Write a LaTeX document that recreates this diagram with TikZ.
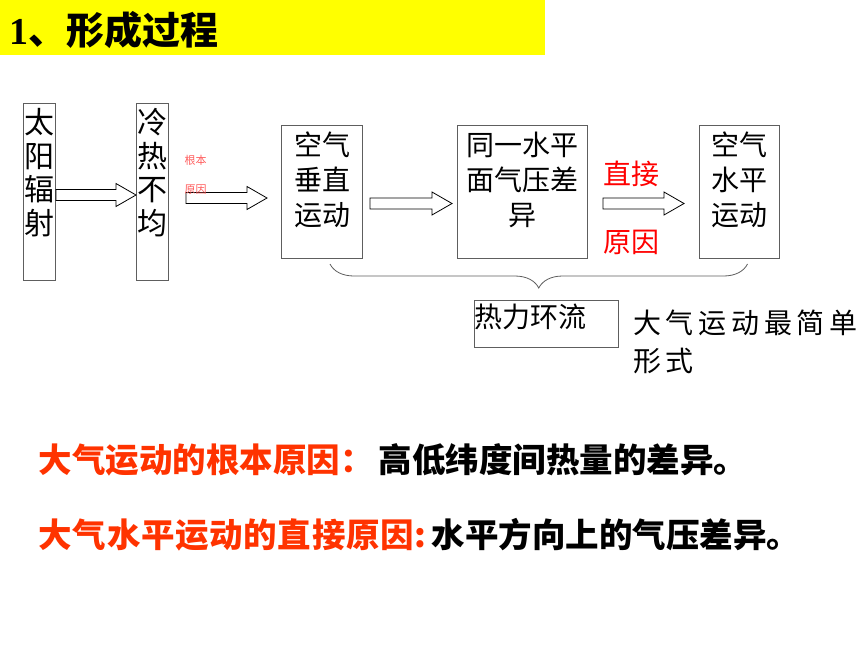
\documentclass[tikz,border=0pt]{standalone}
\usepackage{fontspec}
\setmainfont{Noto Sans CJK SC}
\newfontfamily\latinserif{Liberation Serif}
\usetikzlibrary{calc,decorations.pathreplacing}
\definecolor{boxgray}{HTML}{5E5E5E}
\definecolor{titleyellow}{HTML}{FFFF00}
\definecolor{causered}{HTML}{FF3300}
\definecolor{softred}{HTML}{FF5C5C}
\tikzset{
  every node/.style={
    inner sep=0pt
  },
  column/.style={
    draw=boxgray,
    line width=1pt,
    anchor=north west,
    text width=32pt,
    align=center,
    font=\fontsize{30}{33.5}\selectfont,
    text height=30pt,
    text depth=147pt
  },
  stage/.style={
    draw=boxgray,
    line width=1pt,
    anchor=north west,
    text width=#1,
    align=center,
    font=\fontsize{28}{35}\selectfont,
    text height=30pt,
    text depth=103pt
  },
  summary/.style={
    draw=boxgray,
    line width=1pt,
    anchor=north west,
    text width=144pt,
    align=left,
    font=\fontsize{28}{35}\selectfont,
    text height=26.5pt,
    text depth=20.5pt
  },
  blockarrow/.style={
    draw=black,
    line width=0.8pt,
    fill=white,
    line join=miter
  },
  cause/.style={
    anchor=base west,
    text=red,
    font=\fontsize{28}{35}\selectfont
  },
  keyline/.style={
    anchor=base west,
    font=\fontsize{33.5}{40}\selectfont\bfseries
  }
}
\newcommand{\hollowarrow}[2]{%
  \draw[blockarrow] let \p1=(#1), \p2=(#2) in
    (\x1,\y1+5.5) -- (\x2-20,\y1+5.5) -- (\x2-20,\y1+11.5) -- (\x2,\y1)
    -- (\x2-20,\y1-11.5) -- (\x2-20,\y1-5.5) -- (\x1,\y1-5.5) -- cycle;}

\begin{document}
\begin{tikzpicture}[x=1pt,y=-1pt]
  \fill[white] (0,0) rectangle (860,645);
  \useasboundingbox (0,0) rectangle (860,645);

  \fill[titleyellow] (0,0) rectangle (545,55);
  \node[anchor=base west, font=\fontsize{38}{40}\selectfont\bfseries] (title) at (9,45)
    {{\latinserif 1}、形成过程};

  \node[column] (sun) at (23,103) {太\\阳\\辐\\射};
  \node[column] (uneven) at (136,103) {冷\\热\\不\\均};
  \node[stage=81pt] (vertical) at (281,125) {空气\\垂直\\运动};
  \node[stage=130pt] (pressure) at (457,125) {同一水平\\面气压差\\异};
  \node[stage=80pt] (horizontal) at (699,125) {空气\\水平\\运动};
  \node[summary] (circulation) at (474,300) {热力环流};

  \hollowarrow{$(sun.east)+(0,3)$}{$(uneven.west)+(0,3)$}
  \hollowarrow{$(uneven.east)+(17,6)$}{$(vertical.west)+(-14,6)$}
  \hollowarrow{$(vertical.east)+(7,11.5)$}{$(pressure.west)+(-5,11.5)$}
  \hollowarrow{$(pressure.east)+(15,11.5)$}{$(horizontal.west)+(-15,11.5)$}

  \node[anchor=base west, text width=30pt, align=left, text=softred,
    font=\fontsize{11}{29}\selectfont] (rootnote) at (184.5,164) {根本\\原因};
  \node[cause] (direct) at (603,184.5) {直接};
  \node[cause] (reason) at (603,252) {原因};

  \draw[boxgray, line width=0.8pt, decorate, decoration={brace, mirror, amplitude=24pt}]
    ($(vertical.south)+(8,5)$) -- ($(horizontal.south)+(8,5)$);

  \node[anchor=base west, text width=230pt, align=left,
    font=\fontsize{28}{38}\selectfont\addfontfeature{LetterSpace=17}] (simplest) at (633,333.5)
    {大气运动最简单\\形式};

  \node[keyline, text=causered] (rootcause) at (38.5,472) {大气运动的根本原因：};
  \node[keyline] (rootanswer) at (378.5,472) {高低纬度间热量的差异。};
  \node[keyline, text=causered, font=\fontsize{33.5}{40}\selectfont\bfseries\addfontfeature{LetterSpace=2}]
    (directcause) at (38.5,547.5) {大气水平运动的直接原因:};
  \node[keyline] (directanswer) at (431.5,547.5) {水平方向上的气压差异。};
\end{tikzpicture}
\end{document}
